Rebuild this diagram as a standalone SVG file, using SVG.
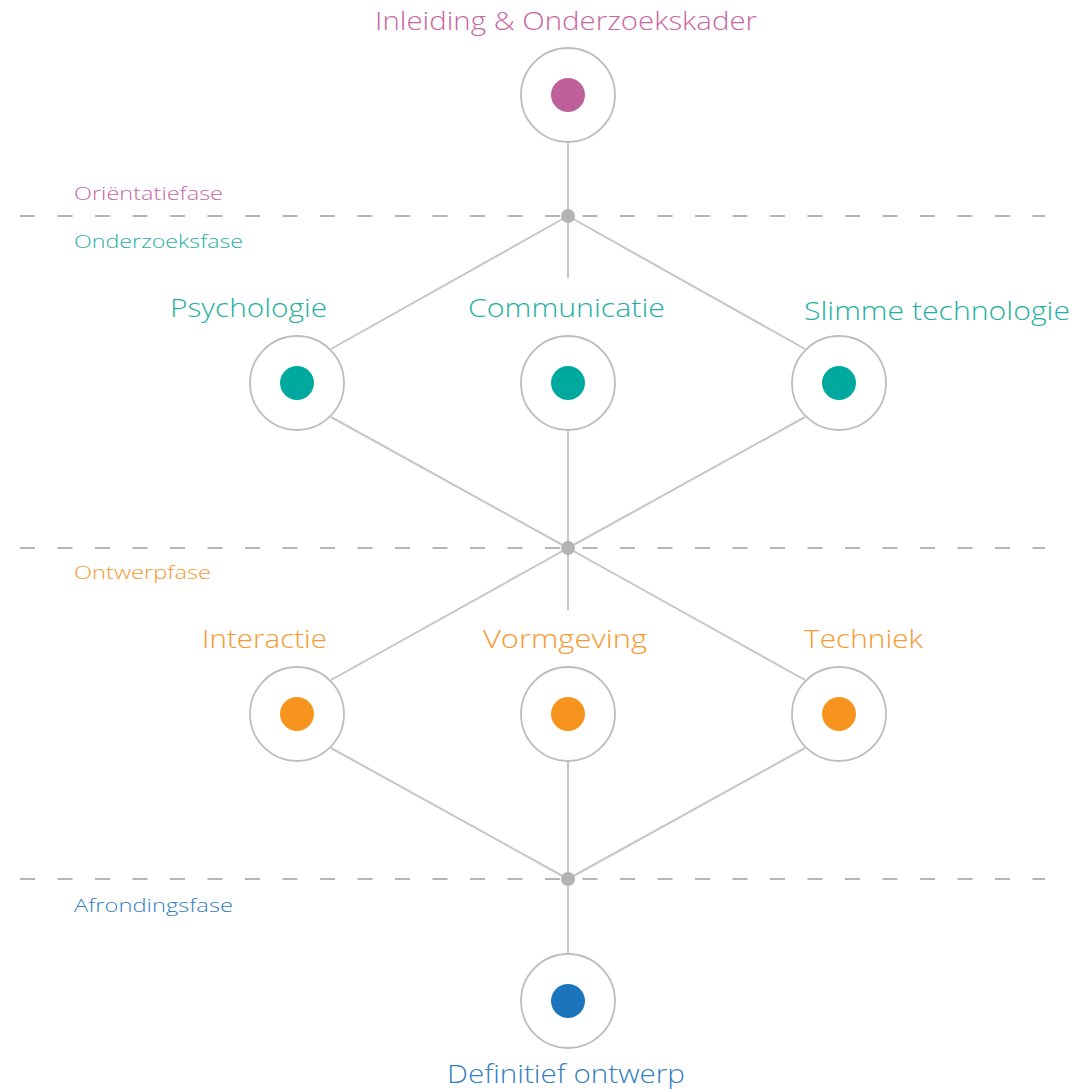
<svg xmlns="http://www.w3.org/2000/svg" width="1079" height="1089" viewBox="0 0 1079 1089">
<style>
.bg{fill:#ffffff}
.dash{stroke:#b5b5b5;stroke-width:2;stroke-dasharray:15 22.5;fill:none}
.conn{stroke:#c6c6c6;stroke-width:2;fill:none}
.ring{fill:#ffffff;stroke:#bdbdbd;stroke-width:1.8}
.jn{fill:#b3b3b3}
text{font-family:"Open Sans","Liberation Sans",sans-serif;font-weight:300}
.t{font-size:26px}
.s{font-size:19px}
.pink{fill:#c8679f}
.teal{fill:#1fb0a3}
.orange{fill:#f7992e}
.blue{fill:#3580c0}
</style>
<rect class="bg" x="0" y="0" width="1079" height="1089"/>
<g id="phases">
<line class="dash" x1="20" y1="216" x2="1045" y2="216"/>
<line class="dash" x1="20" y1="548" x2="1045" y2="548"/>
<line class="dash" x1="20" y1="879" x2="1045" y2="879"/>
<text class="s pink" x="74" y="200" textLength="149" lengthAdjust="spacingAndGlyphs">Oriëntatiefase</text>
<text class="s teal" x="74" y="248" textLength="169" lengthAdjust="spacingAndGlyphs">Onderzoeksfase</text>
<text class="s orange" x="74" y="579" textLength="137" lengthAdjust="spacingAndGlyphs">Ontwerpfase</text>
<text class="s blue" x="74" y="912" textLength="159" lengthAdjust="spacingAndGlyphs">Afrondingsfase</text>
</g>
<g id="connectors">
<line class="conn" x1="568" y1="142" x2="568" y2="216"/>
<line class="conn" x1="568" y1="216" x2="568" y2="278"/>
<line class="conn" x1="568" y1="216" x2="331" y2="349"/>
<line class="conn" x1="568" y1="216" x2="805" y2="349"/>
<line class="conn" x1="331" y1="417" x2="568" y2="548"/>
<line class="conn" x1="805" y1="417" x2="568" y2="548"/>
<line class="conn" x1="568" y1="430" x2="568" y2="548"/>
<line class="conn" x1="568" y1="548" x2="568" y2="610"/>
<line class="conn" x1="568" y1="548" x2="331" y2="680"/>
<line class="conn" x1="568" y1="548" x2="805" y2="680"/>
<line class="conn" x1="331" y1="748" x2="568" y2="879"/>
<line class="conn" x1="805" y1="748" x2="568" y2="879"/>
<line class="conn" x1="568" y1="761" x2="568" y2="879"/>
<line class="conn" x1="568" y1="879" x2="568" y2="954"/>
<circle class="jn" cx="568" cy="216" r="7"/>
<circle class="jn" cx="568" cy="548" r="7"/>
<circle class="jn" cx="568" cy="879" r="7"/>
</g>
<g id="n-inleiding">
<circle class="ring" cx="568" cy="95" r="47"/>
<circle fill="#c0609a" cx="568" cy="95" r="17"/>
<text class="t pink" x="566" y="30" text-anchor="middle" textLength="382" lengthAdjust="spacingAndGlyphs">Inleiding &amp; Onderzoekskader</text>
</g>
<g id="n-psychologie">
<circle class="ring" cx="297" cy="383" r="47"/>
<circle fill="#00a99d" cx="297" cy="383" r="17"/>
<text class="t teal" x="248.5" y="317" text-anchor="middle" textLength="157" lengthAdjust="spacingAndGlyphs">Psychologie</text>
</g>
<g id="n-communicatie">
<circle class="ring" cx="568" cy="383" r="47"/>
<circle fill="#00a99d" cx="568" cy="383" r="17"/>
<text class="t teal" x="566.5" y="317" text-anchor="middle" textLength="197" lengthAdjust="spacingAndGlyphs">Communicatie</text>
</g>
<g id="n-slimme">
<circle class="ring" cx="839" cy="383" r="47"/>
<circle fill="#00a99d" cx="839" cy="383" r="17"/>
<text class="t teal" x="937" y="320" text-anchor="middle" textLength="266" lengthAdjust="spacingAndGlyphs">Slimme technologie</text>
</g>
<g id="n-interactie">
<circle class="ring" cx="297" cy="714" r="47"/>
<circle fill="#f7941d" cx="297" cy="714" r="17"/>
<text class="t orange" x="264.5" y="648" text-anchor="middle" textLength="125" lengthAdjust="spacingAndGlyphs">Interactie</text>
</g>
<g id="n-vormgeving">
<circle class="ring" cx="568" cy="714" r="47"/>
<circle fill="#f7941d" cx="568" cy="714" r="17"/>
<text class="t orange" x="565" y="648" text-anchor="middle" textLength="164" lengthAdjust="spacingAndGlyphs">Vormgeving</text>
</g>
<g id="n-techniek">
<circle class="ring" cx="839" cy="714" r="47"/>
<circle fill="#f7941d" cx="839" cy="714" r="17"/>
<text class="t orange" x="863.5" y="648" text-anchor="middle" textLength="119" lengthAdjust="spacingAndGlyphs">Techniek</text>
</g>
<g id="n-definitief">
<circle class="ring" cx="568" cy="1001" r="47"/>
<circle fill="#1c75bc" cx="568" cy="1001" r="17"/>
<text class="t blue" x="566" y="1083" text-anchor="middle" textLength="238" lengthAdjust="spacingAndGlyphs">Definitief ontwerp</text>
</g>
</svg>
